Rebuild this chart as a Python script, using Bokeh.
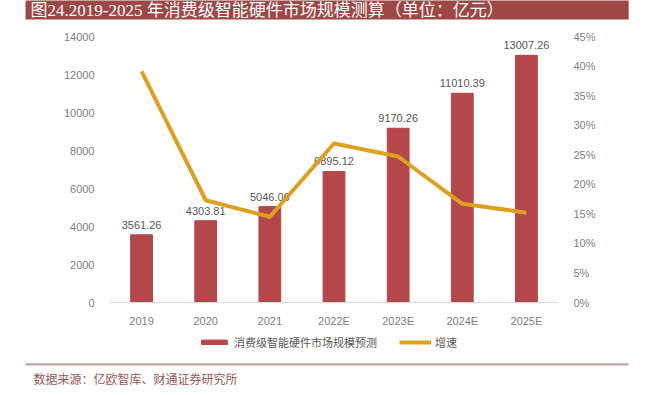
from bokeh.plotting import figure
from bokeh.models import (Range1d, LinearAxis, CategoricalAxis, Legend, LegendItem, Title,
                          ColumnDataSource, FixedTicker, NumeralTickFormatter)
from bokeh.embed import file_html
from bokeh.resources import INLINE
from bokeh.core.properties import value

years = ["2019", "2020", "2021", "2022E", "2023E", "2024E", "2025E"]
market = [3561.26, 4303.81, 5046.06, 6895.12, 9170.26, 11010.39, 13007.26]
market_labels = ["3561.26", "4303.81", "5046.06", "6895.12", "9170.26", "11010.39", "13007.26"]
growth = [0.391, 0.173, 0.145, 0.269, 0.247, 0.167, 0.152]
left_ticks = [0, 2000, 4000, 6000, 8000, 10000, 12000, 14000]
right_ticks = [0, 0.05, 0.10, 0.15, 0.20, 0.25, 0.30, 0.35, 0.40, 0.45]
left_max, right_max = 14000, 0.45

title_text = "图24.2019-2025 年消费级智能硬件市场规模测算（单位：亿元）"
source_text = "数据来源：亿欧智库、财通证券研究所"
bar_name = "消费级智能硬件市场规模预测"
line_name = "增速"

BAR = "#B4474A"
LINE = "#DEA01E"
TICK = "#808080"
LBL = "#595959"
CJK = "Noto Sans CJK SC"

W, H = 648, 395
LEFT, RIGHT = 109, 558
FRAME_TOP, TOP, ZERO, BOTTOM = 21, 36, 302, 361
span = ZERO - TOP
below = (BOTTOM - ZERO) / span     # room under the value axis for the legend
above = (TOP - FRAME_TOP) / span   # room over the top tick

src = ColumnDataSource(dict(x=years, top=market, lab=market_labels, g=growth))

p = figure(width=W, height=H, x_range=years,
           y_range=Range1d(-left_max * below, left_max * (1 + above)),
           output_backend="svg", toolbar_location=None, x_axis_location=None,
           min_border_left=LEFT, min_border_right=W - RIGHT, min_border_top=FRAME_TOP,
           min_border_bottom=H - BOTTOM)
p.extra_y_ranges = {"g": Range1d(-right_max * below, right_max * (1 + above))}
p.outline_line_color = None
p.xgrid.visible = False
p.ygrid.visible = False

bars = p.vbar(x="x", top="top", width=0.34, source=src, fill_color=BAR, line_color=BAR)
p.text(x="x", y="top", text="lab", source=src, y_offset=-10, text_align="center",
       text_baseline="alphabetic", text_font_size="11px", text_color=LBL,
       text_font=value("Liberation Sans"))
ln = p.line(x="x", y="g", source=src, y_range_name="g", line_width=4, line_color=LINE,
            line_join="round")

ya = p.yaxis[0]
ya.ticker = FixedTicker(ticks=left_ticks)
ya.axis_line_color = None
ya.major_tick_line_color = None
ya.minor_tick_line_color = None
ya.major_label_standoff = 9
ya.major_label_text_color = TICK
ya.major_label_text_font_size = "11px"
ya.major_label_text_font = "Liberation Sans"

ra = LinearAxis(y_range_name="g", ticker=FixedTicker(ticks=right_ticks),
                formatter=NumeralTickFormatter(format="0%"))
ra.axis_line_color = None
ra.major_tick_line_color = None
ra.minor_tick_line_color = None
ra.major_label_standoff = 9
ra.major_label_text_color = TICK
ra.major_label_text_font_size = "11px"
ra.major_label_text_font = "Liberation Sans"
p.add_layout(ra, "right")

xa = CategoricalAxis(fixed_location=0)
xa.axis_line_color = "#D9D9D9"
xa.axis_line_width = 1
xa.major_tick_line_color = None
xa.major_label_standoff = 6
xa.major_label_text_color = TICK
xa.major_label_text_font_size = "11px"
xa.major_label_text_font = "Liberation Sans"
p.add_layout(xa, "below")

# title bar (above)
p.add_layout(Title(text=title_text, align="left", offset=25 - LEFT, standoff=0,
                   vertical_align="top",
                   text_color="white", text_font_size="17px", text_font_style="normal",
                   text_font="Liberation Serif, Noto Sans CJK SC",
                   background_fill_color="#9E4846", background_fill_alpha=1,
                   padding=dict(left=5, right=125, top=0, bottom=0)), "above")

legend = Legend(items=[LegendItem(label=bar_name, renderers=[bars]),
                       LegendItem(label=line_name, renderers=[ln])],
                orientation="horizontal", location=(89, 11),
                glyph_width=32, glyph_height=6, label_height=12, label_standoff=4, spacing=22,
                padding=0, margin=0, border_line_color=None, background_fill_alpha=0,
                label_text_font=CJK, label_text_font_size="11px", label_text_color=LBL)
p.add_layout(legend, "center")

# separator line and source (below)
p.add_layout(Title(text="\u3000", align="left", offset=25 - LEFT, standoff=0,
                   text_font_size="2px", text_color="#C9A3A3",
                   background_fill_color="#C9A3A3", background_fill_alpha=1,
                   padding=dict(left=0, right=601, top=0, bottom=0)), "below")
p.add_layout(Title(text=source_text, align="left", offset=33 - LEFT, standoff=8,
                   vertical_align="top",
                   text_color="#965757", text_font_size="12px", text_font_style="normal",
                   text_font=CJK), "below")

open("out.html", "w").write(file_html(p, INLINE))
